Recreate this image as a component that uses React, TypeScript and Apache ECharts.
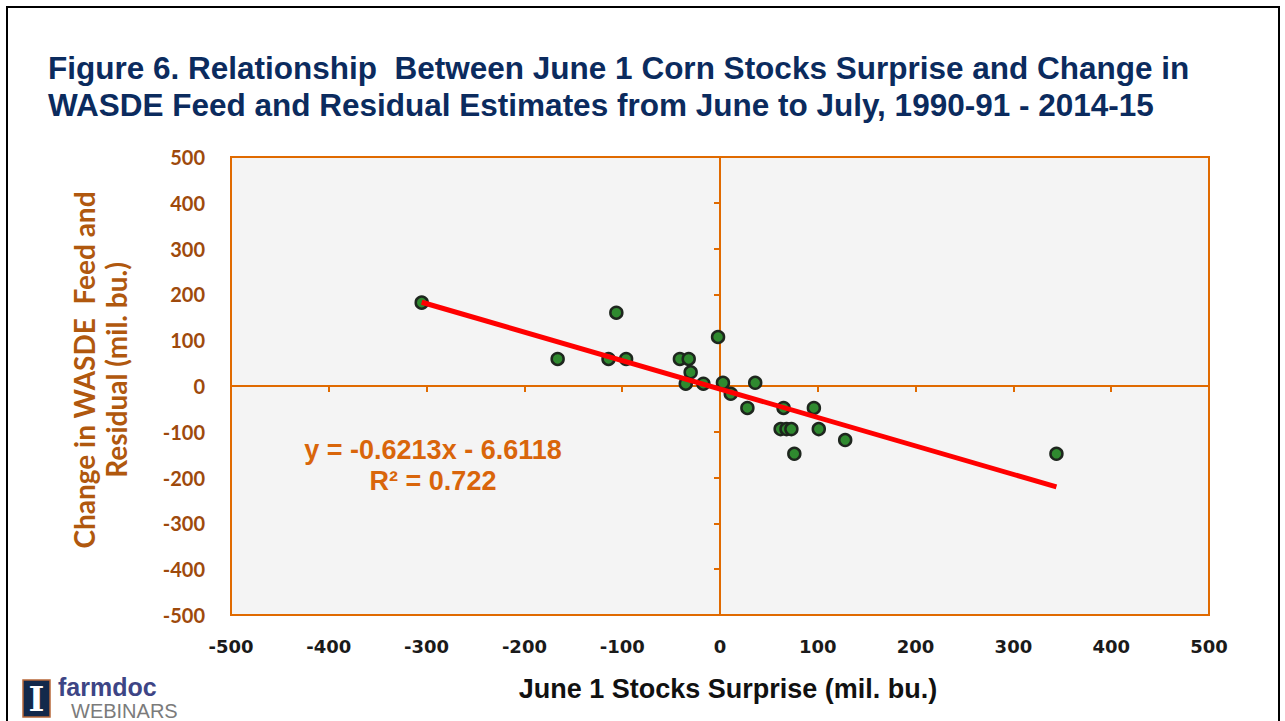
import React, { useEffect, useRef } from "react";
import * as echarts from "echarts";

// June 1 stocks surprise (mil. bu.)
const surpriseX = [-305, -166, -114, -106, -96, -41, -32, -30, -35, -17, -2, 3, 11, 28, 36, 65, 96, 62, 68, 73, 101, 128, 76, 344];
// Change in WASDE feed & residual (mil. bu.)
const feedChangeY = [182, 59, 59, 160, 59, 59, 59, 30, 5, 5, 107, 7, -17, -48, 7, -48, -48, -94, -94, -94, -94, -118, -148, -148];
// trendline as printed
const trendSlope = -0.6213;
const trendIntercept = -6.6118;
const trendXRange = [-305, 344];
const xTicks = { min: -500, max: 500, step: 100 };
const yTicks = { min: -500, max: 500, step: 100 };
const titleLines = [
  "Figure 6. Relationship  Between June 1 Corn Stocks Surprise and Change in",
  "WASDE Feed and Residual Estimates from June to July, 1990-91 - 2014-15",
];
const xTitle = "June 1 Stocks Surprise (mil. bu.)";
const yTitle = "Change in WASDE  Feed and\nResidual (mil. bu.)";
const eqLines = ["y = -0.6213x - 6.6118", "R\u00B2 = 0.722"];

const ORANGE = "#e06a00";

export default function App() {
  const ref = useRef<HTMLDivElement>(null);
  useEffect(() => {
    document.body.style.margin = "0";
    if (!ref.current) return;
    const chart = echarts.init(ref.current, undefined, { renderer: "svg" });
    const points = surpriseX.map((x, i) => [x, feedChangeY[i]]);
    const trend = trendXRange.map((x) => [x, trendSlope * x + trendIntercept]);
    const baseX = { type: "value", min: xTicks.min, max: xTicks.max, interval: xTicks.step, splitLine: { show: false } };
    const baseY = { type: "value", min: yTicks.min, max: yTicks.max, interval: yTicks.step, splitLine: { show: false } };
    const zeroLine = { show: true, onZero: true, onZeroAxisIndex: 0, lineStyle: { color: ORANGE, width: 2 } };
    chart.setOption({
      animation: false,
      grid: {
        left: 231, right: 76, top: 157, bottom: 106,
        show: true, backgroundColor: "#f4f4f4", borderColor: ORANGE, borderWidth: 2,
        outerBoundsMode: "none",
      },
      xAxis: [
        {
          ...baseX, position: "bottom",
          axisLine: { show: false, onZero: false }, axisTick: { show: false },
          axisLabel: { color: "#1a1a1a", fontSize: 18, fontWeight: "bold", fontFamily: "DejaVu Sans", margin: 22 },
        },
        {
          ...baseX, position: "top",
          axisLine: zeroLine,
          axisTick: { show: true, inside: true, length: 6, lineStyle: { color: ORANGE, width: 2 } },
          axisLabel: { show: false },
        },
        {
          ...baseX, position: "bottom",
          axisLine: zeroLine,
          axisTick: { show: true, inside: false, length: 6, lineStyle: { color: ORANGE, width: 2 } },
          axisLabel: { show: false },
        },
      ],
      yAxis: [
        {
          ...baseY, position: "left",
          axisLine: { show: false, onZero: false }, axisTick: { show: false },
          axisLabel: { color: "#9e4a0c", fontSize: 20, fontWeight: "bold", fontFamily: "Lato", margin: 26 },
        },
        {
          ...baseY, position: "right",
          axisLine: zeroLine,
          axisTick: { show: true, inside: true, length: 6, lineStyle: { color: ORANGE, width: 2 } },
          axisLabel: { show: false },
        },
        {
          ...baseY, position: "left",
          axisLine: zeroLine,
          axisTick: { show: true, inside: false, length: 6, lineStyle: { color: ORANGE, width: 2 } },
          axisLabel: { show: false },
        },
      ],
      series: [
        {
          type: "scatter", xAxisIndex: 0, yAxisIndex: 0, data: points, symbolSize: 12, z: 3,
          itemStyle: { color: "#2f8a2f", borderColor: "#1e261e", borderWidth: 2.5, opacity: 1 },
        },
        {
          type: "line", xAxisIndex: 0, yAxisIndex: 0, data: trend, showSymbol: false, z: 4,
          lineStyle: { color: "#ff0000", width: 5 },
        },
      ],
      graphic: [
        { type: "rect", shape: { x: 7, y: 7, width: 1272, height: 740 }, style: { fill: "none", stroke: "#000", lineWidth: 2 }, z: 0 },
        {
          type: "text", x: 48, y: 68,
          style: { text: titleLines[0], fill: "#0b2b5e", fontSize: 31.5, fontWeight: "bold", fontFamily: "Liberation Sans", align: "left", verticalAlign: "middle" },
        },
        {
          type: "text", x: 48, y: 105,
          style: { text: titleLines[1], fill: "#0b2b5e", fontSize: 31.5, fontWeight: "bold", fontFamily: "Liberation Sans", align: "left", verticalAlign: "middle" },
        },
        {
          type: "text", x: 100, y: 370, rotation: Math.PI / 2,
          style: { text: yTitle, fill: "#b0580e", fontSize: 28, fontWeight: "bold", fontFamily: "Lato", align: "center", verticalAlign: "middle", lineHeight: 32 },
        },
        {
          type: "text", x: 728, y: 689,
          style: { text: xTitle, fill: "#111", fontSize: 27, fontWeight: "bold", fontFamily: "Liberation Sans", align: "center", verticalAlign: "middle" },
        },
        {
          type: "text", x: 433, y: 450, z: 10,
          style: { text: eqLines[0], fill: "#d9650a", fontSize: 27, fontWeight: "bold", fontFamily: "Liberation Sans", align: "center", verticalAlign: "middle" },
        },
        {
          type: "text", x: 433, y: 481, z: 10,
          style: { text: eqLines[1], fill: "#d9650a", fontSize: 27, fontWeight: "bold", fontFamily: "Liberation Sans", align: "center", verticalAlign: "middle" },
        },
        { type: "rect", shape: { x: 23, y: 680, width: 27, height: 37 }, style: { fill: "#13294b", stroke: "#b8683a", lineWidth: 1.5 } },
        {
          type: "text", x: 36.5, y: 699,
          style: { text: "I", fill: "#ffffff", fontSize: 34, fontWeight: "bold", fontFamily: "DejaVu Serif", align: "center", verticalAlign: "middle" },
        },
        {
          type: "text", x: 58, y: 687,
          style: { text: "farmdoc", fill: "#3d4585", fontSize: 25, fontWeight: "bold", fontFamily: "Liberation Sans", align: "left", verticalAlign: "middle" },
        },
        {
          type: "text", x: 71, y: 710.5,
          style: { text: "WEBINARS", fill: "#7b7b7b", fontSize: 20, fontWeight: "normal", fontFamily: "Liberation Sans", align: "left", verticalAlign: "middle" },
        },
      ],
    });
    return () => chart.dispose();
  }, []);
  return <div ref={ref} style={{ width: 1285, height: 721, background: "#fff" }} />;
}
